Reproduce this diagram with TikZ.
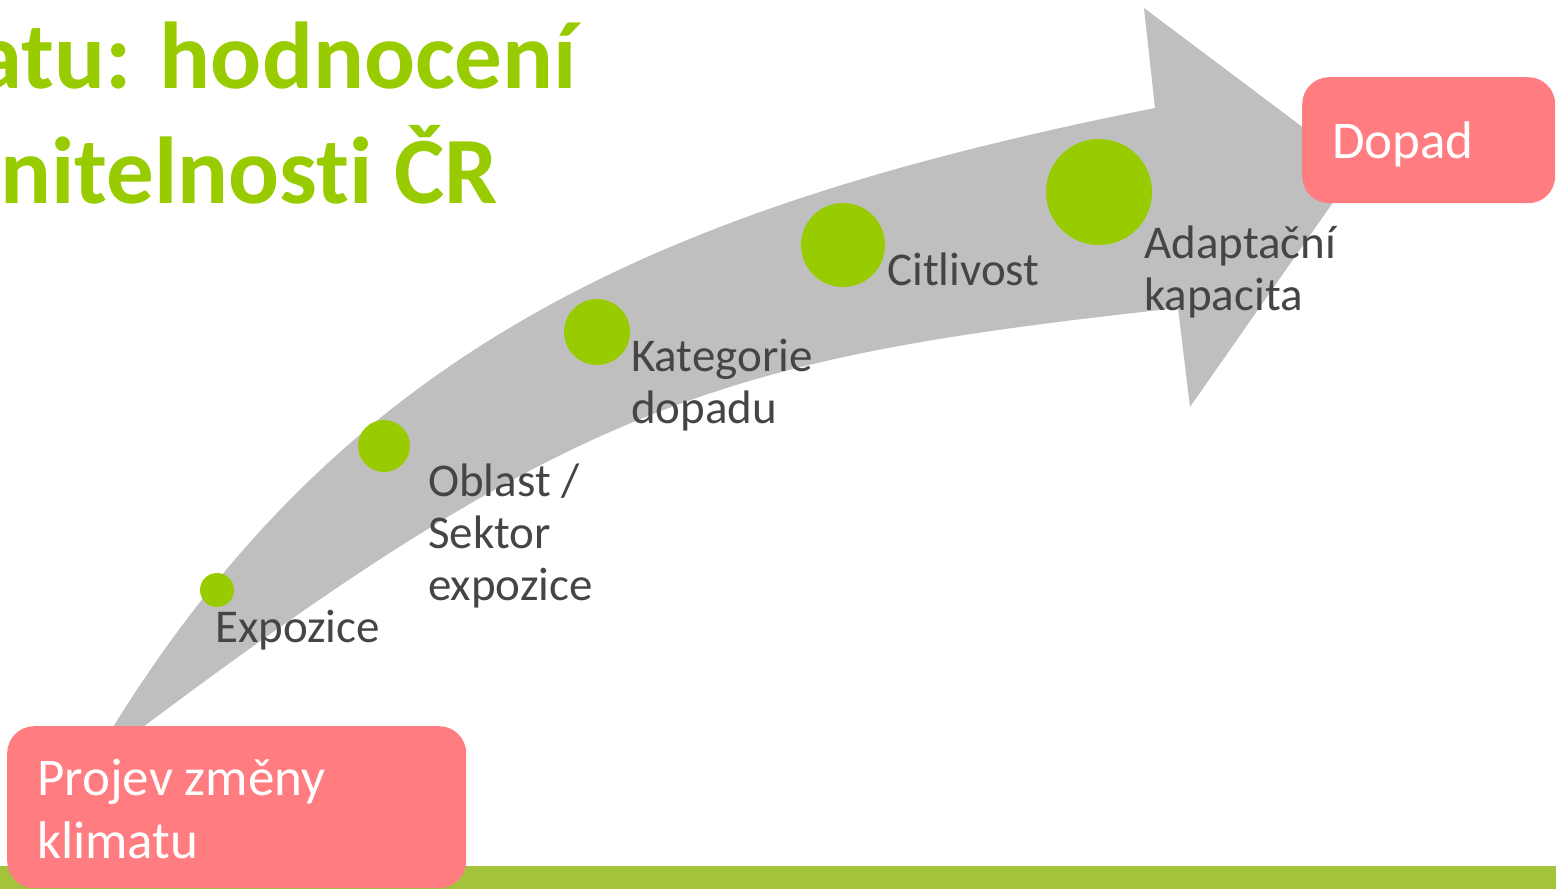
\documentclass[tikz,border=0pt]{standalone}
\usepackage{fontspec}
\setmainfont{Carlito}[Ligatures=CommonOff]
\definecolor{arrowgrey}{HTML}{BFBFBF}
\definecolor{leafgreen}{HTML}{99CC00}
\definecolor{bargreen}{HTML}{A3C43A}
\definecolor{rose}{HTML}{FF7C80}
\definecolor{labelgrey}{HTML}{454545}
\begin{document}
\begin{tikzpicture}[x=1pt,y=-1pt,
  dot/.style={circle, fill=leafgreen, inner sep=0pt, draw=none},
  % multi-line labels are placed by the baseline of their last line
  lbl/.style={anchor=base west, inner sep=0pt, align=left, text=labelgrey,
              font=\fontsize{47}{52}\selectfont},
  rosebox/.style={fill=rose, rounded corners=27pt, inner sep=0pt, anchor=north west},
  boxtext/.style={anchor=base west, inner sep=0pt, align=left, text=white,
              font=\fontsize{53}{63}\selectfont},
  headline/.style={anchor=base east, inner sep=0pt, text=leafgreen,
              font=\fontsize{95}{115}\selectfont\bfseries}]
\useasboundingbox (0,0) rectangle (1556,889);
\clip (0,0) rectangle (1556,889);

% bottom strip
\fill[bargreen] (0,866) rectangle (1556,889);

% curved grey arrow
\fill[arrowgrey]
  (104,745) -- (113,727)
  .. controls (351,344) and (665,206) .. (1155,108)
  -- (1144,8) -- (1357,168) -- (1190,407) -- (1178,308)
  .. controls (731,357) and (583,397) .. (143,727)
  -- (130,745) -- cycle;

% stages along the arrow
\node[dot, minimum size=34pt]  (s1) at (217,590) {};
\node[dot, minimum size=52pt]  (s2) at (384,446) {};
\node[dot, minimum size=66pt]  (s3) at (597,332) {};
\node[dot, minimum size=84pt]  (s4) at (843,245) {};
\node[dot, minimum size=106pt] (s5) at (1099,192) {};

\node[lbl] (l1) at (215,642) {Expozice};
\node[lbl] (l2) at (428,600) {Oblast /\\Sektor\\expozice};
\node[lbl] (l3) at (631,423) {Kategorie\\dopadu};
\node[lbl] (l4) at (887,285) {Citlivost};
\node[lbl] (l5) at (1144,310) {Adaptační\\kapacita};

% start and end boxes
\node[rosebox, minimum width=459pt, minimum height=162pt] (projev) at (7,726) {};
\node[boxtext] (projevtext) at (37,858) {Projev změny\\klimatu};
\node[rosebox, minimum width=253pt, minimum height=126pt] (dopad) at (1302,77) {};
\node[boxtext] (dopadtext) at (1332,158) {Dopad};

% heading
\node[headline] (h1) at (577,88) {atu: hodnocení};
\node[headline] (h2) at (498,203) {nitelnosti ČR};
\end{tikzpicture}
\end{document}
